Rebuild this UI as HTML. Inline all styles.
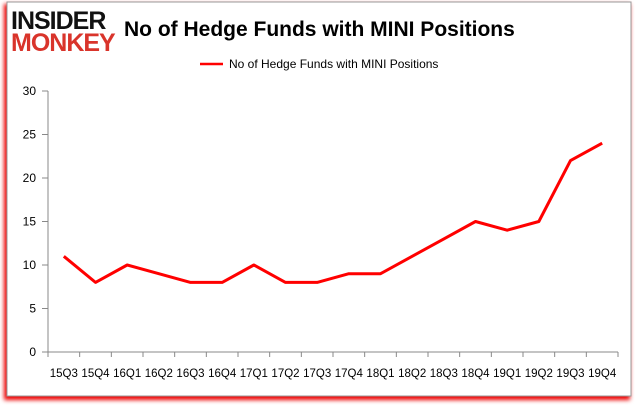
<!DOCTYPE html>
<html><head><style>
body{margin:0;background:#fff;width:637px;height:408px;overflow:hidden;font-family:"Liberation Sans",sans-serif}
</style></head><body>
<svg width="637" height="408" xmlns="http://www.w3.org/2000/svg">
<defs><filter id="s" x="-5%" y="-5%" width="110%" height="115%"><feGaussianBlur stdDeviation="2"/></filter></defs>
<rect x="4" y="4" width="626" height="396" fill="#e00" filter="url(#s)"/>
<rect x="7" y="2" width="624" height="394" fill="#fff" stroke="#999" stroke-width="1"/>
<text x="11" y="29" font-family="Liberation Sans" font-weight="bold" font-size="25" fill="#111" letter-spacing="-1">INSIDER</text>
<text x="11" y="51" font-family="Liberation Sans" font-weight="bold" font-size="25" fill="#d9342b" letter-spacing="-1">MONKEY</text>
<text x="124" y="36" font-family="Liberation Sans" font-weight="bold" font-size="21" fill="#000">No of Hedge Funds with MINI Positions</text>
<line x1="200" y1="64" x2="223" y2="64" stroke="#f00" stroke-width="2.5"/>
<text x="229" y="68" font-size="12" fill="#000">No of Hedge Funds with MINI  Positions</text>
<g stroke="#888" stroke-width="1">
<line x1="48" y1="91" x2="48" y2="352"/>
<line x1="42" y1="352" x2="618" y2="352"/>
<line x1="42" y1="308.5" x2="48" y2="308.5"/><line x1="42" y1="265" x2="48" y2="265"/><line x1="42" y1="221.5" x2="48" y2="221.5"/><line x1="42" y1="178" x2="48" y2="178"/><line x1="42" y1="134.5" x2="48" y2="134.5"/><line x1="42" y1="91" x2="48" y2="91"/>
</g>
<g stroke="#888" id="t"></g>
<g font-size="12" text-anchor="end" fill="#000">
<text x="36" y="356">0</text><text x="36" y="312.5">5</text><text x="36" y="269">10</text><text x="36" y="225.5">15</text><text x="36" y="182">20</text><text x="36" y="138.5">25</text><text x="36" y="95">30</text>
</g>
<g id="xl" font-size="11.5" text-anchor="middle" fill="#000"></g>
<polyline id="pl" fill="none" stroke="#f00" stroke-width="3" stroke-linejoin="round"/>
</svg>
<script>
var v=[11,8,10,9,8,8,10,8,8,9,9,11,13,15,14,15,22,24];
var l=["15Q3","15Q4","16Q1","16Q2","16Q3","16Q4","17Q1","17Q2","17Q3","17Q4","18Q1","18Q2","18Q3","18Q4","19Q1","19Q2","19Q3","19Q4"];
var ns="http://www.w3.org/2000/svg",w=570/18,p=[],t=document.getElementById('t'),xl=document.getElementById('xl');
for(var i=0;i<=18;i++){var e=document.createElementNS(ns,'line');var x=48+i*w;e.setAttribute('x1',x);e.setAttribute('x2',x);e.setAttribute('y1',352);e.setAttribute('y2',357);t.appendChild(e);}
for(var i=0;i<18;i++){var x=48+w*(i+.5);p.push(x+','+(352-v[i]*8.7));var s=document.createElementNS(ns,'text');s.setAttribute('x',x);s.setAttribute('y',377);s.textContent=l[i];xl.appendChild(s);}
document.getElementById('pl').setAttribute('points',p.join(' '));
</script>
</body></html>
